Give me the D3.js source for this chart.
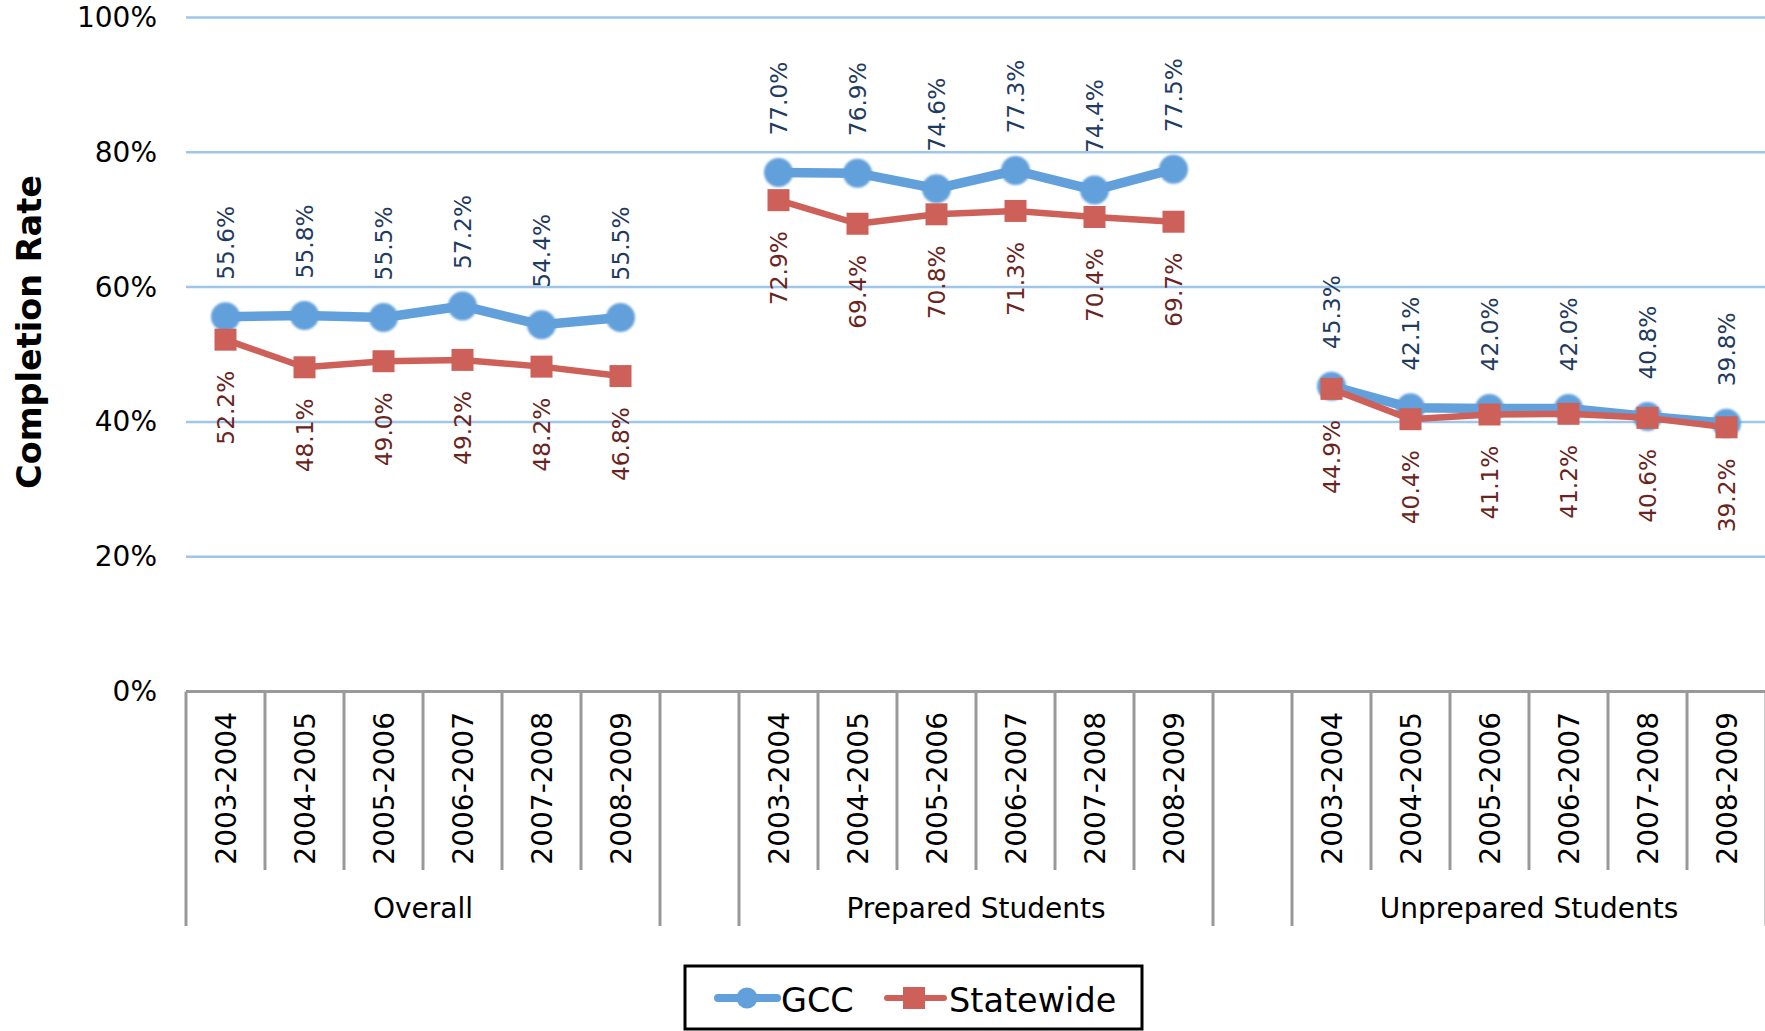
<!DOCTYPE html>
<html>
<head>
<meta charset="utf-8">
<script src="https://cdn.jsdelivr.net/npm/d3@7"></script>
<style>
  html, body { margin: 0; padding: 0; background: #fff; }
  svg { display: block; font-family: "DejaVu Sans", Verdana, sans-serif; }
</style>
</head>
<body>
<svg id="chart" width="1765" height="1031"></svg>
<script>
// ---- data ----
const groups = ["Overall", "Prepared Students", "Unprepared Students"];
const years = ["2003-2004", "2004-2005", "2005-2006", "2006-2007", "2007-2008", "2008-2009"];
const gccOverall = [55.6, 55.8, 55.5, 57.2, 54.4, 55.5];
const gccPrepared = [77.0, 76.9, 74.6, 77.3, 74.4, 77.5];
const gccUnprepared = [45.3, 42.1, 42.0, 42.0, 40.8, 39.8];
const swOverall = [52.2, 48.1, 49.0, 49.2, 48.2, 46.8];
const swPrepared = [72.9, 69.4, 70.8, 71.3, 70.4, 69.7];
const swUnprepared = [44.9, 40.4, 41.1, 41.2, 40.6, 39.2];
const yTicks = [0, 20, 40, 60, 80, 100];
const seriesNames = ["GCC", "Statewide"];

// ---- build slot list (groups separated by an empty slot) ----
const slots = [];
groups.forEach((g, gi) => {
  years.forEach(y => slots.push({ id: g + "|" + y, group: g, year: y, gi }));
  if (gi < groups.length - 1) slots.push({ id: "gap" + gi, gap: true, gi });
});

const gccData = [gccOverall, gccPrepared, gccUnprepared];
const swData = [swOverall, swPrepared, swUnprepared];

const svg = d3.select("#chart");
const x = d3.scaleBand().domain(slots.map(s => s.id)).range([186, 1766]).padding(0);
const y = d3.scaleLinear().domain([0, 100]).range([691.5, 17.5]);
const cx = id => x(id) + x.bandwidth() / 2;

const BLUE = "#62a0dc", RED = "#cd6159";
const BLUE_TXT = "#1f3b60", RED_TXT = "#6a2420";

// soft edge filter for circle markers
const defs = svg.append("defs");
defs.append("filter").attr("id", "soft").attr("x", "-30%").attr("y", "-30%").attr("width", "160%").attr("height", "160%")
  .append("feGaussianBlur").attr("stdDeviation", 0.9);

// gridlines
svg.append("g").selectAll("line").data(yTicks.filter(t => t > 0)).join("line")
  .attr("x1", 186).attr("x2", 1765)
  .attr("y1", d => y(d)).attr("y2", d => y(d))
  .attr("stroke", "#9fc5ea").attr("stroke-width", 2.5);

// y axis labels
const yAxis = svg.append("g").attr("transform", "translate(186,0)")
  .call(d3.axisLeft(y).tickValues(yTicks).tickFormat(d => d + "%").tickSize(0).tickPadding(29));
yAxis.select(".domain").remove();
yAxis.selectAll("text").attr("font-size", 28).attr("fill", "#000")
  .attr("font-family", "'DejaVu Sans', Verdana, sans-serif");

// category axis baseline
svg.append("line").attr("x1", 186).attr("x2", 1765).attr("y1", y(0)).attr("y2", y(0))
  .attr("stroke", "#999").attr("stroke-width", 3);

// tick separators
const boundaries = d3.range(slots.length + 1).map(i => {
  const left = slots[i - 1], right = slots[i];
  const long = !left || !right || left.gap || right.gap;
  const xpos = right ? x(right.id) : x(left.id) + x.bandwidth();
  return { xpos, long };
});
svg.append("g").selectAll("line").data(boundaries).join("line")
  .attr("x1", d => d.xpos).attr("x2", d => d.xpos)
  .attr("y1", y(0)).attr("y2", d => d.long ? 926 : 870)
  .attr("stroke", "#999").attr("stroke-width", 3);

// category labels (rotated)
svg.append("g").selectAll("text").data(slots.filter(s => !s.gap)).join("text")
  .attr("transform", d => `translate(${cx(d.id)},712) rotate(-90)`)
  .attr("dy", "0.36em").attr("text-anchor", "end")
  .attr("font-size", 28).attr("fill", "#000")
  .text(d => d.year);

// group labels
svg.append("g").selectAll("text").data(groups).join("text")
  .attr("x", (g) => {
    const ids = years.map(yy => g + "|" + yy);
    return (x(ids[0]) + x(ids[ids.length - 1]) + x.bandwidth()) / 2;
  })
  .attr("y", 918).attr("text-anchor", "middle")
  .attr("font-size", 28).attr("fill", "#000")
  .text(d => d);

// axis title
svg.append("text").attr("transform", "translate(29,332) rotate(-90)")
  .attr("dy", "0.36em").attr("text-anchor", "middle")
  .attr("font-size", 33.5).attr("font-weight", "bold").attr("fill", "#000")
  .text("Completion Rate");

// series
const line = d3.line().x(d => cx(d.id)).y(d => y(d.v));
const mk = (arr, gi) => arr.map((v, i) => ({ id: groups[gi] + "|" + years[i], v }));

const gccPts = gccData.map((arr, gi) => mk(arr, gi));
const swPts = swData.map((arr, gi) => mk(arr, gi));

// GCC lines + markers
const gG = svg.append("g");
gG.selectAll("path").data(gccPts).join("path")
  .attr("d", line).attr("fill", "none").attr("stroke", BLUE)
  .attr("stroke-width", 9.5).attr("stroke-linejoin", "round");
gG.selectAll("circle").data(gccPts.flat()).join("circle")
  .attr("cx", d => cx(d.id)).attr("cy", d => y(d.v)).attr("r", 14.5)
  .attr("fill", BLUE).attr("filter", "url(#soft)");

// Statewide lines + markers
const sG = svg.append("g");
sG.selectAll("path").data(swPts).join("path")
  .attr("d", line).attr("fill", "none").attr("stroke", RED)
  .attr("stroke-width", 6.5).attr("stroke-linejoin", "round");
sG.selectAll("rect").data(swPts.flat()).join("rect")
  .attr("x", d => cx(d.id) - 11).attr("y", d => y(d.v) - 11)
  .attr("width", 22).attr("height", 22).attr("fill", RED);

// data labels
svg.append("g").selectAll("text").data(gccPts.flat()).join("text")
  .attr("transform", d => `translate(${cx(d.id)},${y(d.v) - 37}) rotate(-90)`)
  .attr("dy", "0.36em").attr("text-anchor", "start")
  .attr("font-size", 23.3).attr("fill", BLUE_TXT)
  .text(d => d.v.toFixed(1) + "%");
svg.append("g").selectAll("text").data(swPts.flat()).join("text")
  .attr("transform", d => `translate(${cx(d.id)},${y(d.v) + 31}) rotate(-90)`)
  .attr("dy", "0.36em").attr("text-anchor", "end")
  .attr("font-size", 23.3).attr("fill", RED_TXT)
  .text(d => d.v.toFixed(1) + "%");

// legend
const lg = svg.append("g");
lg.append("rect").attr("x", 685).attr("y", 966).attr("width", 457).attr("height", 63)
  .attr("fill", "#fff").attr("stroke", "#000").attr("stroke-width", 3);
const ly = 998;
lg.append("line").attr("x1", 718).attr("x2", 777).attr("y1", ly).attr("y2", ly)
  .attr("stroke", BLUE).attr("stroke-width", 8).attr("stroke-linecap", "round");
lg.append("circle").attr("cx", 747).attr("cy", ly).attr("r", 10.5).attr("fill", BLUE);
lg.append("text").attr("x", 781).attr("y", 1012).attr("font-size", 33.5).attr("fill", "#000").text(seriesNames[0]);
lg.append("line").attr("x1", 887).attr("x2", 944).attr("y1", ly).attr("y2", ly)
  .attr("stroke", RED).attr("stroke-width", 6).attr("stroke-linecap", "round");
lg.append("rect").attr("x", 903).attr("y", ly - 11).attr("width", 22).attr("height", 22).attr("fill", RED);
lg.append("text").attr("x", 949).attr("y", 1012).attr("font-size", 33.5).attr("fill", "#000").text(seriesNames[1]);
</script>
</body>
</html>
